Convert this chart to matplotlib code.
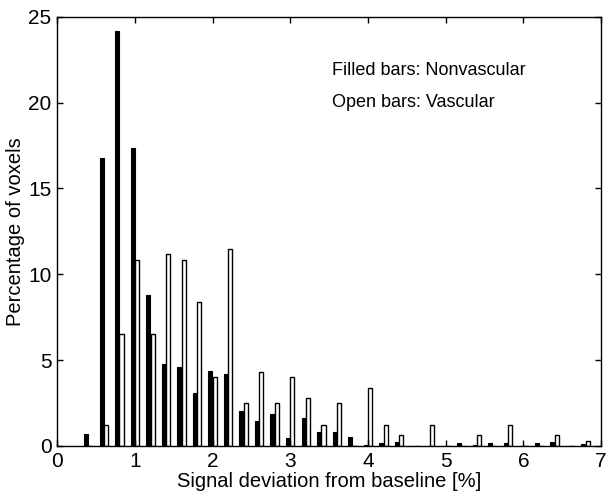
import matplotlib
matplotlib.use("Agg")
import matplotlib.pyplot as plt
import numpy as np

plt.rcParams['font.family'] = ['Liberation Sans', 'DejaVu Sans']

bin_centers = [0.4, 0.6, 0.8, 1.0, 1.2, 1.4, 1.6, 1.8, 2.0, 2.2, 2.4, 2.6, 2.8, 3.0,
               3.2, 3.4, 3.6, 3.8, 4.0, 4.2, 4.4, 4.6, 4.8, 5.0, 5.2, 5.4, 5.6, 5.8,
               6.0, 6.2, 6.4, 6.6, 6.8]
nonvascular = [0.68, 16.8, 24.2, 17.35, 8.8, 4.75, 4.62, 3.1, 4.38, 4.2, 2.05, 1.46, 1.86, 0.48,
               1.64, 0.84, 0.84, 0.5, 0.05, 0.17, 0.25, 0.0, 0.0, 0.0, 0.17, 0.06, 0.17, 0.17,
               0.0, 0.17, 0.25, 0.0, 0.14]
vascular = [0.0, 1.22, 6.52, 10.85, 6.52, 11.16, 10.85, 8.38, 4.02, 11.47, 2.5, 4.33, 2.5, 4.02,
            2.8, 1.22, 2.5, 0.0, 3.4, 1.22, 0.62, 0.0, 1.22, 0.0, 0.0, 0.62, 0.0, 1.22,
            0.0, 0.0, 0.62, 0.0, 0.3]
x_ticks = [0, 1, 2, 3, 4, 5, 6, 7]
y_ticks = [0, 5, 10, 15, 20, 25]

fig = plt.figure(figsize=(6.08, 4.91), dpi=100)
ax = fig.add_axes([0.094, 0.0917, 0.8945, 0.874])

x = np.array(bin_centers)
w = 0.052
ax.bar(x - 0.028, nonvascular, width=w, color='black', edgecolor='black', linewidth=0.8)
ax.bar(x + 0.028, vascular, width=w, color='white', edgecolor='black', linewidth=1.0)

ax.set_xlim(0, 7)
ax.set_ylim(0, 25)
ax.set_xticks(x_ticks)
ax.set_yticks(y_ticks)
ax.tick_params(direction='in', top=True, right=True, labelsize=15, length=4, width=1)
ax.tick_params(axis='x', pad=4)
ax.tick_params(axis='y', pad=4)
for s in ax.spines.values():
    s.set_linewidth(1.0)

ax.set_xlabel('Signal deviation from baseline [%]', fontsize=14.5, labelpad=1)
ax.set_ylabel('Percentage of voxels', fontsize=14.5, labelpad=2)

ax.text(3.54, 21.9, 'Filled bars: Nonvascular', fontsize=13, va='center', ha='left')
ax.text(3.54, 20.0, 'Open bars: Vascular', fontsize=13, va='center', ha='left')

fig.savefig('out.png', dpi=100)
